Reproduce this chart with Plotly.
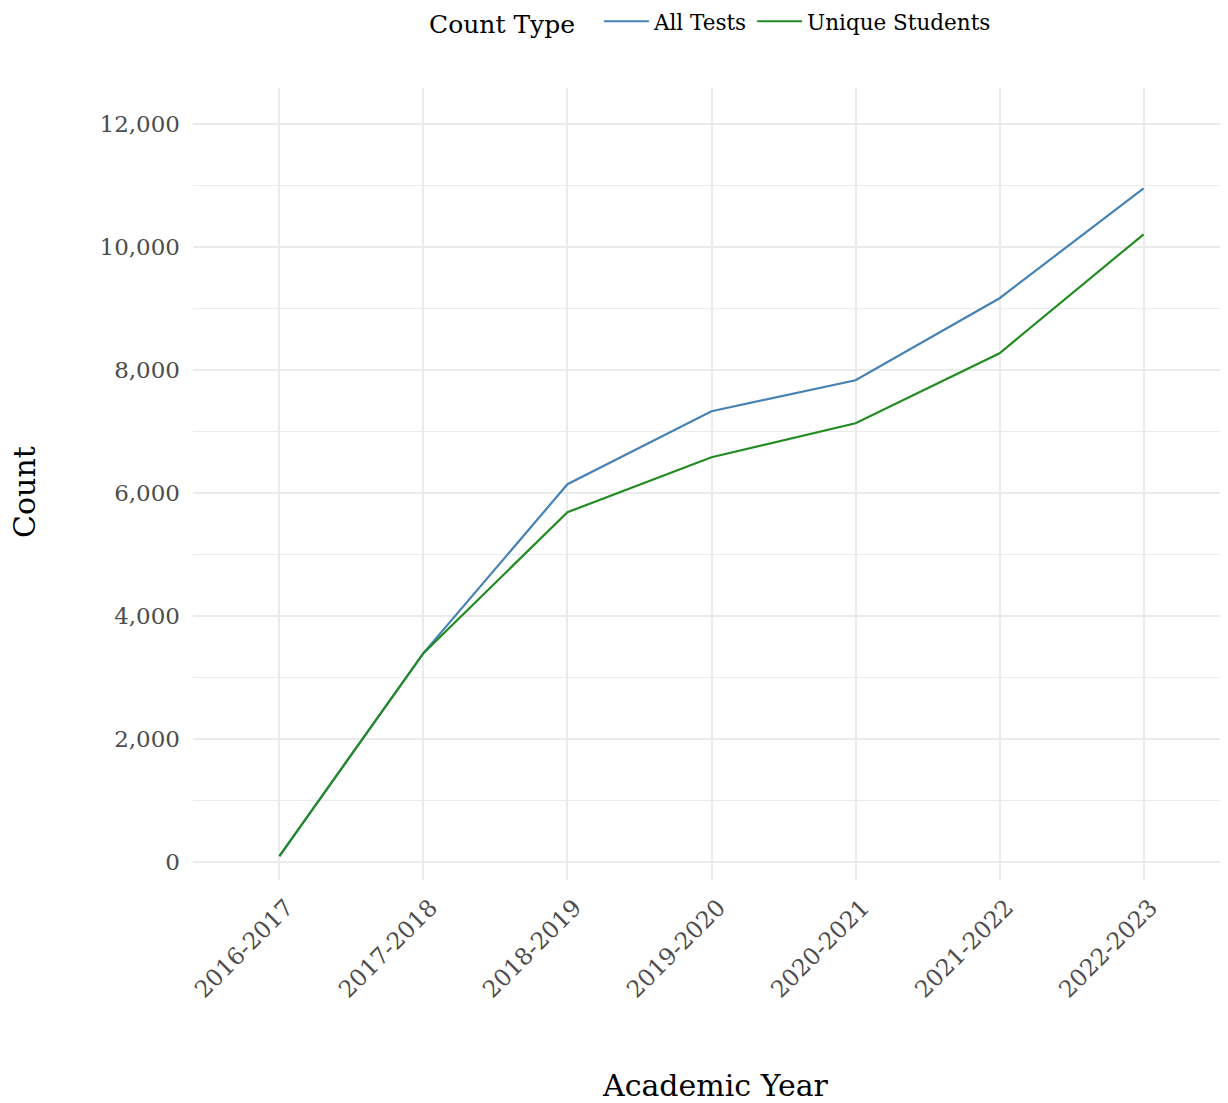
import plotly.graph_objects as go

years = ["2016-2017", "2017-2018", "2018-2019", "2019-2020", "2020-2021", "2021-2022", "2022-2023"]
all_tests = [100, 3400, 6146, 7333, 7837, 9171, 10959]
unique_students = [100, 3400, 5691, 6585, 7138, 8276, 10211]
y_ticks = [0, 2000, 4000, 6000, 8000, 10000, 12000]
y_tick_labels = ["0", "2,000", "4,000", "6,000", "8,000", "10,000", "12,000"]

FONT = "DejaVu Serif"

fig = go.Figure()
fig.add_trace(go.Scatter(x=years, y=all_tests, mode="lines", name="All Tests",
                         line=dict(color="#4682B4", width=2.2)))
fig.add_trace(go.Scatter(x=years, y=unique_students, mode="lines", name="Unique Students",
                         line=dict(color="#228B22", width=2.2)))

fig.update_layout(
    width=1228, height=1103,
    margin=dict(l=185, r=6, t=80, b=231, autoexpand=False),
    paper_bgcolor="white", plot_bgcolor="white",
    font=dict(family=FONT, color="#4D4D4D"),
    showlegend=True,
    legend=dict(orientation="h", x=0.5, xanchor="center", y=1.083, yanchor="middle",
                title=dict(text="Count Type  ", font=dict(size=25, color="black", family=FONT)),
                font=dict(size=21.5, color="black", family=FONT),
                itemwidth=45, tracegroupgap=0),
    annotations=[
        dict(text="Academic Year", xref="paper", yref="paper", x=0.5043, y=-0.26,
             xanchor="center", yanchor="middle", showarrow=False,
             font=dict(size=30, color="black", family=FONT)),
        dict(text="Count", xref="paper", yref="paper", x=-0.162, y=0.49,
             xanchor="center", yanchor="middle", textangle=-90, showarrow=False,
             font=dict(size=30, color="black", family=FONT)),
    ],
)
fig.update_xaxes(
    type="category", range=[-0.6, 6.6],
    showgrid=True, gridcolor="#EBEBEB", gridwidth=2,
    zeroline=False, showline=False, ticks="",
    tickangle=-45, tickfont=dict(size=23.5, color="#4D4D4D", family=FONT),
    ticklabelstandoff=8, ticklabelshift=7,
)
fig.update_yaxes(
    range=[-290, 12590],
    tickvals=y_ticks, ticktext=y_tick_labels,
    showgrid=True, gridcolor="#EBEBEB", gridwidth=2,
    minor=dict(dtick=1000, tick0=1000, showgrid=True, gridcolor="#EBEBEB", gridwidth=1),
    zeroline=False, showline=False, ticks="",
    tickfont=dict(size=23, color="#4D4D4D", family=FONT),
    ticklabelstandoff=12,
)

fig.write_html("out.html")
